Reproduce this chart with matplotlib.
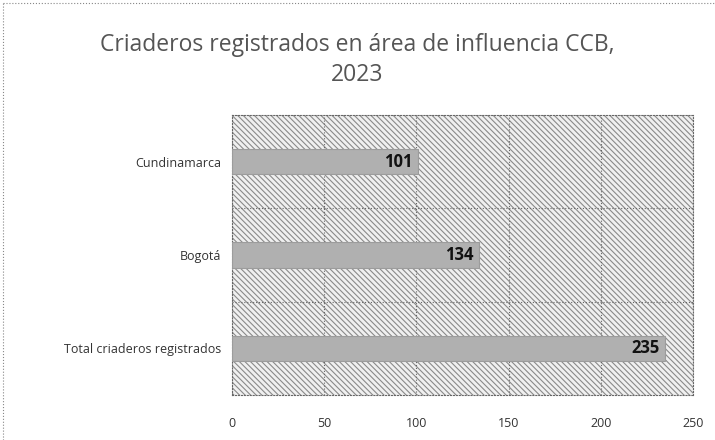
import matplotlib.pyplot as plt
import matplotlib as mpl

categorias = ['Total criaderos registrados', 'Bogotá', 'Cundinamarca']
valores = [235, 134, 101]
xticks = [0, 50, 100, 150, 200, 250]

plt.rcParams['font.family'] = ['Open Sans', 'DejaVu Sans']
mpl.rcParams['hatch.linewidth'] = 0.8

fig = plt.figure(figsize=[7.15, 4.4], dpi=100)
ax = fig.add_axes([232/715, 1 - 395/440, 461/715, 280/440])

# hatched background of the plot area
ax.add_patch(mpl.patches.Rectangle((0, 0), 1, 1, transform=ax.transAxes,
                                   facecolor='#f0f0f0', edgecolor='#8a8a8a',
                                   lw=0, hatch='\\' * 6, zorder=0))

bars = ax.barh(range(len(categorias)), valores, height=0.27,
               color='#b0b0b0', edgecolor='#9c9c9c', lw=0.8, zorder=3)

for b, v in zip(bars, valores):
    ax.text(b.get_width() - 3, b.get_y() + b.get_height()/2, str(v),
            ha='right', va='center', fontsize=12, fontweight='bold',
            color='#111111', zorder=4)

ax.set_xlim(0, 250)
ax.set_ylim(-0.5, len(categorias) - 0.5)
ax.set_xticks(xticks)
ax.set_xticklabels([str(t) for t in xticks], fontsize=9, color='#333333')
ax.set_yticks(range(len(categorias)))
ax.set_yticklabels(categorias, fontsize=9, color='#333333')
ax.set_yticks([0.5, 1.5], minor=True)
ax.tick_params(axis='both', length=0, which='both')
ax.tick_params(axis='x', pad=16)
ax.tick_params(axis='y', pad=8)

ax.grid(axis='x', which='major', color='#666666', ls=':', lw=0.8, zorder=1)
ax.grid(axis='y', which='minor', color='#666666', ls=':', lw=0.8, zorder=1)
ax.set_axisbelow(True)
for s in ax.spines.values():
    s.set_linestyle(':')
    s.set_color('#666666')
    s.set_linewidth(0.8)

fig.text(0.5, 1 - 45/440, 'Criaderos registrados en área de influencia CCB,',
         ha='center', va='center', fontsize=16.5, color='#555555')
fig.text(0.5, 1 - 75/440, '2023', ha='center', va='center',
         fontsize=16.5, color='#555555')

# dotted outer border on the left and top
fig.add_artist(plt.Line2D([3/715, 3/715], [0, 1 - 3/440], color='#888888',
                          ls=':', lw=0.8))
fig.add_artist(plt.Line2D([3/715, 1], [1 - 3/440, 1 - 3/440], color='#888888',
                          ls=':', lw=0.8))

fig.savefig('out.png', dpi=100)
